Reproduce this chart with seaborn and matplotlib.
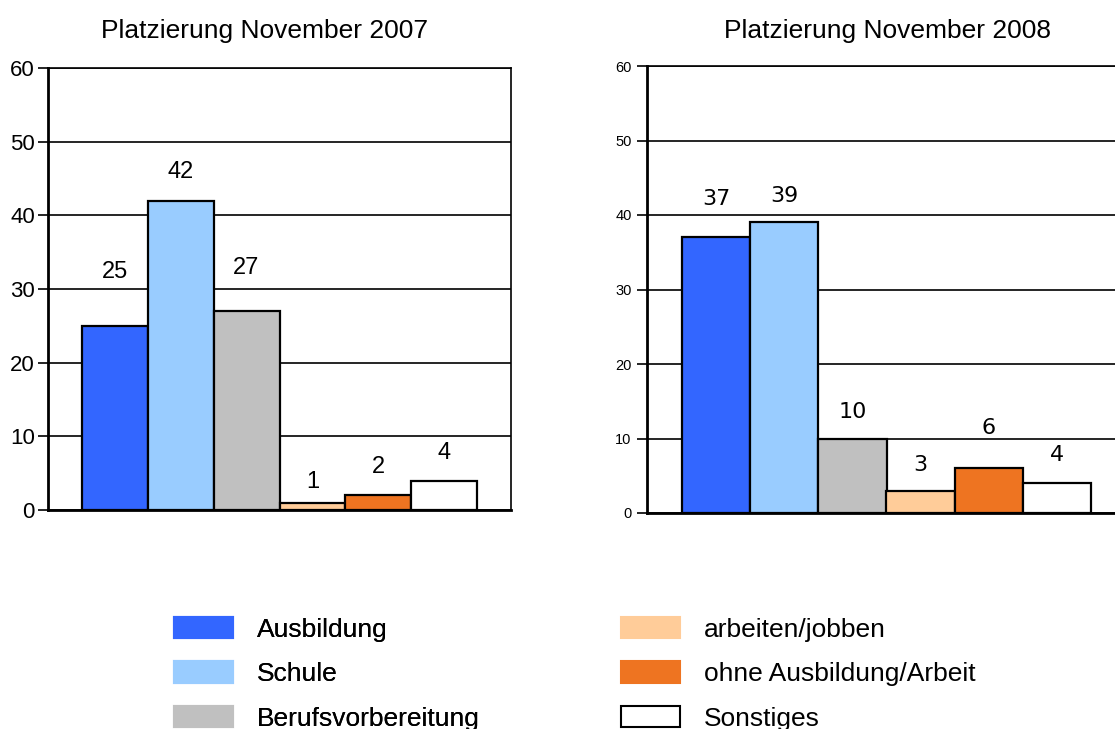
import matplotlib

matplotlib.use("Agg")
import matplotlib.pyplot as plt
import seaborn as sns
from matplotlib.patches import Patch

# data
CATEGORIES = ["Ausbildung", "Schule", "Berufsvorbereitung",
              "arbeiten/jobben", "ohne Ausbildung/Arbeit", "Sonstiges"]
VALUES_2007 = [25, 42, 27, 1, 2, 4]
VALUES_2008 = [37, 39, 10, 3, 6, 4]
TITLE_2007 = "Platzierung November 2007"
TITLE_2008 = "Platzierung November 2008"
Y_TICKS = [0, 10, 20, 30, 40, 50, 60]

# label offsets above the bars (data units), as placed in the original
LABEL_OFFSET_2007 = [7.3, 3.9, 5.8, 2.8, 3.8, 3.7]
LABEL_OFFSET_2008 = [5.1, 3.6, 3.6, 3.4, 5.4, 3.8]

COLORS = ["#3366FF", "#99CCFF", "#C0C0C0", "#FFCC99", "#EE7421", "#FFFFFF"]

W, H = 1115, 729


def px_rect(x0, y_top, x1, y_bot):
    return [x0 / W, 1 - y_bot / H, (x1 - x0) / W, (y_bot - y_top) / H]


def draw_panel(ax, values, offsets, tick_size, tick_pad, label_size, label_family):
    sns.barplot(x=CATEGORIES, y=values, hue=CATEGORIES, palette=COLORS,
                order=CATEGORIES, hue_order=CATEGORIES, width=1.0, dodge=False,
                edgecolor="black", linewidth=1.6, saturation=1, legend=False, ax=ax)
    ax.set_xlim(-1.01, 6.01)
    ax.set_ylim(0, 60)
    ax.set_yticks(Y_TICKS)
    ax.set_xticks([])
    ax.set_xlabel("")
    ax.set_ylabel("")
    ax.set_axisbelow(True)
    ax.yaxis.grid(True, color="black", linewidth=1.2)
    ax.xaxis.grid(False)
    ax.set_facecolor("white")
    for side, spine in ax.spines.items():
        spine.set_visible(True)
        spine.set_color("black")
        spine.set_linewidth(2.0 if side in ("left", "bottom") else 1.2)
    ax.tick_params(axis="y", direction="out", length=7, width=1.2, color="black",
                   labelcolor="black", labelsize=tick_size, pad=tick_pad, left=True)
    for i, (v, off) in enumerate(zip(values, offsets)):
        ax.text(i, v + off, str(v), ha="center", va="center",
                fontsize=label_size, family=label_family, color="black")


def main():
    sns.set_theme(style="white")
    plt.rcParams["font.family"] = ["Liberation Sans", "DejaVu Sans"]
    plt.rcParams.update({"text.color": "black", "axes.labelcolor": "black",
                         "xtick.color": "black", "ytick.color": "black"})

    fig = plt.figure(figsize=(W / 100, H / 100), dpi=100)
    fig.patch.set_facecolor("white")

    ax1 = fig.add_axes(px_rect(48, 68, 511, 510))
    draw_panel(ax1, VALUES_2007, LABEL_OFFSET_2007, 16, 2.5, 17, "Liberation Sans")

    ax2 = fig.add_axes(px_rect(647, 66, 1126, 513))
    draw_panel(ax2, VALUES_2008, LABEL_OFFSET_2008, 10.5, 4, 16, "DejaVu Sans")
    ax2.spines["right"].set_visible(False)

    fig.text(265 / W, 1 - 31 / H, TITLE_2007, ha="center", va="center", fontsize=19)
    fig.text(888 / W, 1 - 31 / H, TITLE_2008, ha="center", va="center", fontsize=19)

    handles = [Patch(facecolor=c, edgecolor="black" if c == "#FFFFFF" else c,
                     linewidth=1.5) for c in COLORS]
    common = dict(frameon=False, fontsize=19, handlelength=2.23, handleheight=0.87,
                  handletextpad=0.9, labelspacing=0.74, borderpad=0, borderaxespad=0,
                  loc="upper left")
    leg1 = fig.legend(handles[:3], CATEGORIES[:3],
                      bbox_to_anchor=(174 / W, 1 - 617 / H), **common)
    fig.add_artist(leg1)
    fig.legend(handles[3:], CATEGORIES[3:],
               bbox_to_anchor=(621 / W, 1 - 617 / H), **common)

    fig.savefig("out.png", dpi=100, facecolor="white")


if __name__ == "__main__":
    main()
